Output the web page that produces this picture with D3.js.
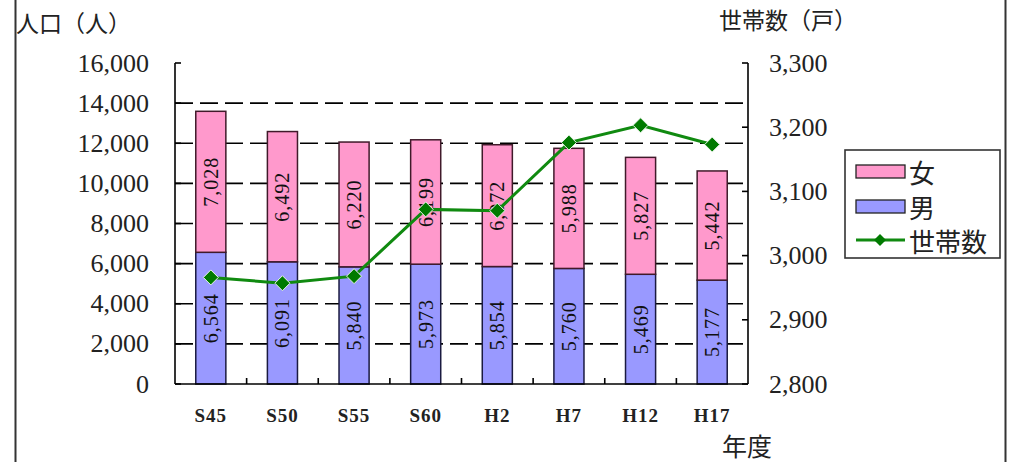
<!DOCTYPE html>
<html><head><meta charset="utf-8">
<script src="https://cdn.jsdelivr.net/npm/d3@7"></script>
<style>
html,body{margin:0;padding:0;background:#fff;}
svg{display:block;}
</style></head>
<body>
<svg id="c" width="1011" height="462"></svg>
<script>
const categories = ["S45","S50","S55","S60","H2","H7","H12","H17"];
const male = [6564,6091,5840,5973,5854,5760,5469,5177];
const female = [7028,6492,6220,6199,6072,5988,5827,5442];
const households = [2966,2957,2968,3072,3070,3176,3203,3173];
const leftTicks = [0,2000,4000,6000,8000,10000,12000,14000,16000];
const rightTicks = [2800,2900,3000,3100,3200,3300];

const svg = d3.select("#c");
const L = 175, R = 748, B = 384, T = 63;
const x = d3.scaleBand().domain(categories).range([L,R]).paddingInner(0.58).paddingOuter(0.29);
const yL = d3.scaleLinear().domain([0,16000]).range([B,T]);
const yR = d3.scaleLinear().domain([2800,3300]).range([B,T]);
const fmt = d3.format(",");
const numFont = "'Liberation Serif', serif";
const cjk = "'Noto Sans CJK JP', sans-serif";

// outer frame
svg.append("line").attr("x1",15.5).attr("x2",15.5).attr("y1",0).attr("y2",462).attr("stroke","#333").attr("stroke-width",2);
svg.append("line").attr("x1",1005.5).attr("x2",1005.5).attr("y1",0).attr("y2",462).attr("stroke","#333").attr("stroke-width",2);

// gridlines
svg.append("g").selectAll("line").data(leftTicks.filter(d=>d>0 && d<16000)).join("line")
  .attr("x1",L).attr("x2",R).attr("y1",d=>yL(d)).attr("y2",d=>yL(d))
  .attr("stroke","#000").attr("stroke-width",1.6).attr("stroke-dasharray","18,7");

// bars
const stack = categories.map((c,i)=>({c, m:male[i], f:female[i]}));
const bw = x.bandwidth();
const g = svg.append("g");
g.selectAll("rect.m").data(stack).join("rect").attr("class","m")
  .attr("x",d=>x(d.c)).attr("width",bw)
  .attr("y",d=>yL(d.m)).attr("height",d=>yL(0)-yL(d.m))
  .attr("fill","#9999FF").attr("stroke","#1a1a40").attr("stroke-width",1.5);
g.selectAll("rect.f").data(stack).join("rect").attr("class","f")
  .attr("x",d=>x(d.c)).attr("width",bw)
  .attr("y",d=>yL(d.m+d.f)).attr("height",d=>yL(d.m)-yL(d.m+d.f))
  .attr("fill","#FF99CC").attr("stroke","#401a2a").attr("stroke-width",1.5);

// bar labels
function lab(cls, yc, val){
  g.selectAll("text."+cls).data(stack).join("text").attr("class",cls)
    .attr("transform",d=>`translate(${x(d.c)+bw/2},${yc(d)}) rotate(-90)`)
    .attr("text-anchor","middle").attr("dominant-baseline","central")
    .attr("font-family",numFont).attr("font-size",20).attr("letter-spacing",1)
    .attr("fill","#111").text(d=>fmt(val(d)));
}
lab("lm", d=>(yL(0)+yL(d.m))/2, d=>d.m);
lab("lf", d=>(yL(d.m)+yL(d.m+d.f))/2, d=>d.f);

// axes lines
svg.append("line").attr("x1",L).attr("x2",L).attr("y1",T).attr("y2",B).attr("stroke","#000").attr("stroke-width",1.6);
svg.append("line").attr("x1",R).attr("x2",R).attr("y1",T).attr("y2",B).attr("stroke","#000").attr("stroke-width",1.6);
svg.append("line").attr("x1",L).attr("x2",R).attr("y1",B).attr("y2",B).attr("stroke","#000").attr("stroke-width",1.6);

// left ticks + labels
svg.append("g").selectAll("line").data(leftTicks).join("line")
  .attr("x1",L).attr("x2",L+6).attr("y1",d=>yL(d)).attr("y2",d=>yL(d)).attr("stroke","#000").attr("stroke-width",1.6);
svg.append("g").selectAll("text").data(leftTicks).join("text")
  .attr("x",149).attr("y",d=>yL(d)).attr("text-anchor","end").attr("dominant-baseline","central")
  .attr("font-family",numFont).attr("font-size",26).attr("fill","#222").text(d=>fmt(d));

// right ticks + labels
svg.append("g").selectAll("line").data(rightTicks).join("line")
  .attr("x1",R-6).attr("x2",R).attr("y1",d=>yR(d)).attr("y2",d=>yR(d)).attr("stroke","#000").attr("stroke-width",1.6);
svg.append("g").selectAll("text").data(rightTicks).join("text")
  .attr("x",769).attr("y",d=>yR(d)).attr("text-anchor","start").attr("dominant-baseline","central")
  .attr("font-family",numFont).attr("font-size",26).attr("fill","#222").text(d=>fmt(d));

// x ticks at category boundaries
const bounds = categories.slice(1).map(c=>x(c)-x.step()*x.paddingInner()/2);
svg.append("g").selectAll("line").data(bounds).join("line")
  .attr("x1",d=>d).attr("x2",d=>d).attr("y1",B).attr("y2",B-6).attr("stroke","#000").attr("stroke-width",1.6);
svg.append("g").selectAll("text").data(categories).join("text")
  .attr("x",d=>x(d)+bw/2).attr("y",415).attr("text-anchor","middle").attr("dominant-baseline","central")
  .attr("font-family",numFont).attr("font-weight","bold").attr("font-size",19).attr("letter-spacing",1)
  .attr("fill","#222").text(d=>d);

// household line
const pts = categories.map((c,i)=>[x(c)+bw/2, yR(households[i])]);
svg.append("path").attr("d",d3.line()(pts)).attr("fill","none").attr("stroke","#108a10").attr("stroke-width",3);
const dia = "M0,-7.5L7.5,0L0,7.5L-7.5,0Z";
svg.append("g").selectAll("path").data(pts).join("path")
  .attr("transform",d=>`translate(${d[0]},${d[1]})`).attr("d",dia)
  .attr("fill","#007a00").attr("stroke","#e8f5e8").attr("stroke-width",1);

// titles
svg.append("text").attr("x",16).attr("y",22).attr("dominant-baseline","central")
  .attr("font-family",cjk).attr("font-size",23).attr("fill","#222").text("人口（人）");
svg.append("text").attr("x",719).attr("y",19).attr("dominant-baseline","central")
  .attr("font-family",cjk).attr("font-size",23).attr("fill","#222").text("世帯数（戸）");
svg.append("text").attr("x",722).attr("y",445).attr("dominant-baseline","central")
  .attr("font-family",cjk).attr("font-size",25).attr("fill","#222").text("年度");

// legend
const lg = svg.append("g");
lg.append("rect").attr("x",845).attr("y",150).attr("width",155).attr("height",108)
  .attr("fill","#fff").attr("stroke","#333").attr("stroke-width",1.6);
const items = [{t:"女",c:"#FF99CC",y:171},{t:"男",c:"#9999FF",y:206}];
items.forEach(it=>{
  lg.append("rect").attr("x",856).attr("y",it.y-6).attr("width",49).attr("height",13)
    .attr("fill",it.c).attr("stroke","#222").attr("stroke-width",1.3);
  lg.append("text").attr("x",909).attr("y",it.y).attr("dominant-baseline","central")
    .attr("font-family",cjk).attr("font-size",26).attr("fill","#222").text(it.t);
});
lg.append("line").attr("x1",856).attr("x2",905).attr("y1",240).attr("y2",240).attr("stroke","#108a10").attr("stroke-width",3);
lg.append("path").attr("transform","translate(880,240)").attr("d","M0,-6L6,0L0,6L-6,0Z").attr("fill","#007a00");
lg.append("text").attr("x",909).attr("y",240).attr("dominant-baseline","central")
  .attr("font-family",cjk).attr("font-size",26).attr("fill","#222").text("世帯数");
</script>
</body></html>
